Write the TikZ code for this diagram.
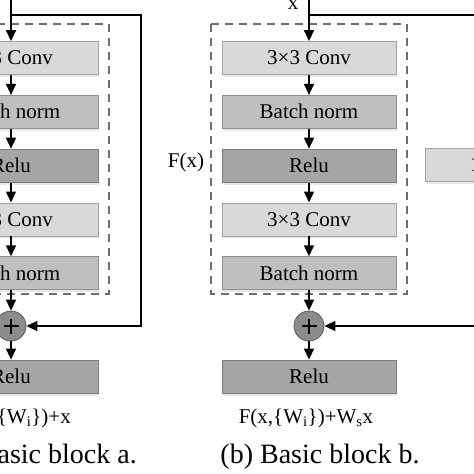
\documentclass[tikz,border=0pt]{standalone}
\usepackage{fontspec}
\setmainfont{Liberation Serif}
\usepackage{tikz}
\usetikzlibrary{arrows.meta, positioning, shadows}
\definecolor{convfill}{HTML}{D9D9D9}
\definecolor{normfill}{HTML}{BFBFBF}
\definecolor{relufill}{HTML}{A6A6A6}
\definecolor{addfill}{HTML}{8C8C8C}
\definecolor{dashgray}{HTML}{6E6E6E}

\begin{document}
\begin{tikzpicture}[x=1pt, y=-1pt, >={Triangle[width=10pt,length=11pt]},
    node distance=20pt,
    layer/.style={draw=#1!75!black, fill=#1, line width=0.8pt,
      minimum width=174pt, minimum height=33pt, inner sep=0pt,
      font=\fontsize{21}{24}\selectfont,
      drop shadow={opacity=0.18, shadow xshift=0.5pt, shadow yshift=-2.5pt}},
    addnode/.style={circle, draw=black!65, fill=addfill, line width=0.8pt,
      minimum size=30pt, inner sep=0pt},
    flow/.style={line width=1.4pt},
    label/.style={font=\fontsize{21}{24}\selectfont, inner sep=0pt},
    caption/.style={font=\fontsize{28}{32}\selectfont, inner sep=0pt}]

    \useasboundingbox (0,0) rectangle (474,474);
    \clip (0,0) rectangle (474,474);

    % the two residual blocks
    \foreach \b/\x in {a/11, b/309} {
      \node[layer=convfill] (\b-conv1) at (\x,58) {3\texttimes3 Conv};
      \node[layer=normfill, below=of \b-conv1] (\b-norm1) {Batch norm};
      \node[layer=relufill, below=of \b-norm1] (\b-relu1) {Relu};
      \node[layer=convfill, below=of \b-relu1] (\b-conv2) {3\texttimes3 Conv};
      \node[layer=normfill, below=of \b-conv2] (\b-norm2) {Batch norm};
      \node[addnode] (\b-add) at (\x,326) {};
      \draw[line width=1.8pt] (\b-add.center) ++(-7.5,0) -- ++(15,0)
                              (\b-add.center) ++(0,-7.5) -- ++(0,15);
      \node[layer=relufill] (\b-out) at (\x,376.5) {Relu};

      \draw[dashgray, line width=1.2pt, dash pattern=on 8pt off 6pt]
          (\x-98,24) rectangle (\x+98,294);

      \coordinate (\b-in) at (\x,-5);
      \coordinate (\b-split) at (\x,15);
      \draw[flow, ->] (\b-in) -- (\b-conv1);
      \draw[flow, ->] (\b-conv1) -- (\b-norm1);
      \draw[flow, ->] (\b-norm1) -- (\b-relu1);
      \draw[flow, ->] (\b-relu1) -- (\b-conv2);
      \draw[flow, ->] (\b-conv2) -- (\b-norm2);
      \draw[flow, ->] (\b-norm2) -- (\b-add);
      \draw[flow, ->] (\b-add) -- (\b-out);
    }

    % identity shortcut of block a
    \coordinate (a-side) at (141,15);
    \coordinate (a-back) at (141,326);
    \draw[flow, ->] (a-split) -- (a-side) -- (a-back) -- (a-add);

    % projection shortcut of block b
    \node[layer=convfill] (b-proj) at (512,164.5) {1\texttimes1 Conv};
    \coordinate (b-side) at (512,15);
    \coordinate (b-back) at (512,326);
    \draw[flow, ->] (b-split) -- (b-side) -- (b-proj);
    \draw[flow, ->] (b-proj) -- (b-back) -- (b-add);

    % labels
    \node[label] (b-xlabel) at (293,5) {x};
    \node[label] (b-flabel) at (186,162) {F(x)};
    \node[label, anchor=east] (a-formula) at (71,418)
        {F(x,\{W\textsubscript{i}\})+x};
    \node[label] (b-formula) at (306,418)
        {F(x,\{W\textsubscript{i}\})+W\textsubscript{s}x};
    \node[caption, anchor=east] (a-caption) at (137,457) {(a) Basic block a.};
    \node[caption] (b-caption) at (320,457) {(b) Basic block b.};

  \end{tikzpicture}
\end{document}
